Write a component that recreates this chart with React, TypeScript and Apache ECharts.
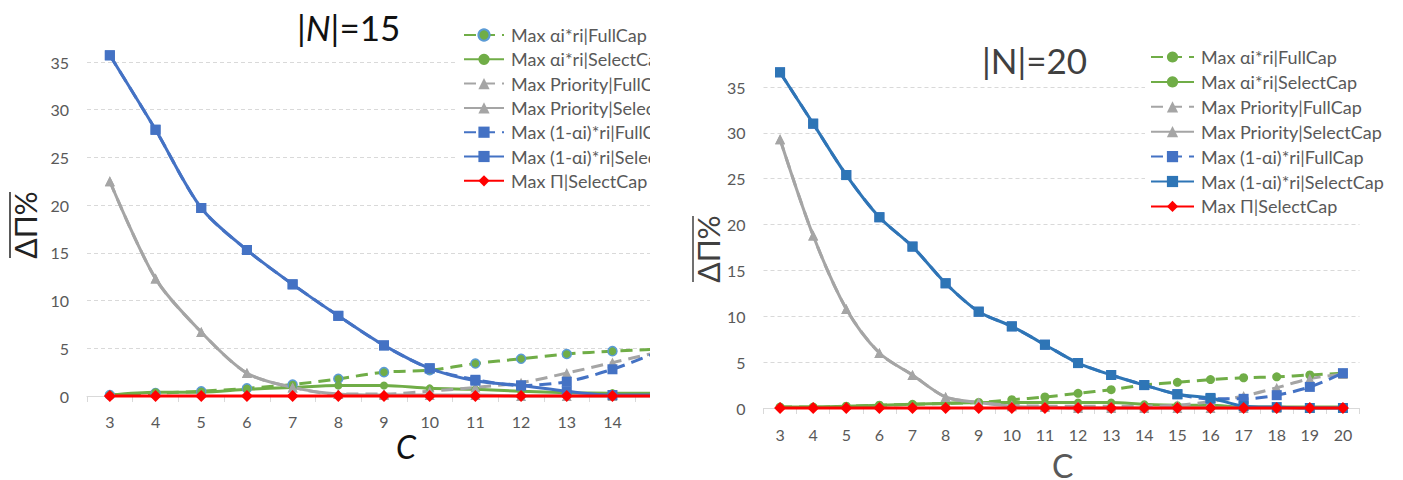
import React, { useEffect, useRef } from "react";
import * as echarts from "echarts";

const FONT = "Lato, 'Open Sans', sans-serif";

const cats15 = ["3", "4", "5", "6", "7", "8", "9", "10", "11", "12", "13", "14", "15"];
const cats20 = ["3", "4", "5", "6", "7", "8", "9", "10", "11", "12", "13", "14", "15", "16", "17", "18", "19", "20"];
const yTicks = [0, 5, 10, 15, 20, 25, 30, 35];

const seriesNames = [
  "Max αi*ri|FullCap",
  "Max αi*ri|SelectCap",
  "Max Priority|FullCap",
  "Max Priority|SelectCap",
  "Max (1-αi)*ri|FullCap",
  "Max (1-αi)*ri|SelectCap",
  "Max Π|SelectCap",
];

// |N| = 15
const greenFull15 = [0.1, 0.3, 0.5, 0.8, 1.2, 1.8, 2.5, 2.7, 3.4, 3.9, 4.4, 4.7, 4.9];
const greenSel15 = [0.1, 0.4, 0.4, 0.7, 0.9, 1.1, 1.1, 0.8, 0.7, 0.5, 0.35, 0.3, 0.3];
const grayFull15 = [22.5, 12.3, 6.7, 2.4, 0.9, 0.2, 0.2, 0.5, 0.9, 1.4, 2.4, 3.5, 4.6];
const graySel15 = [22.5, 12.3, 6.7, 2.4, 0.9, 0.2, 0.1, 0.1, 0.1, 0.0, 0.0, 0.0, 0.0];
const blueFull15 = [35.7, 27.9, 19.7, 15.3, 11.7, 8.4, 5.3, 2.9, 1.7, 1.1, 1.5, 2.8, 4.6];
const blueSel15 = [35.7, 27.9, 19.7, 15.3, 11.7, 8.4, 5.3, 2.9, 1.6, 1.1, 0.5, 0.1, 0.1];
const red15 = [0, 0, 0, 0, 0, 0, 0, 0, 0, 0, 0, 0, 0];

// |N| = 20
const greenFull20 = [0.1, 0.1, 0.2, 0.3, 0.4, 0.5, 0.6, 0.9, 1.2, 1.6, 2.0, 2.5, 2.8, 3.1, 3.3, 3.4, 3.6, 3.8];
const greenSel20 = [0.1, 0.1, 0.2, 0.3, 0.4, 0.5, 0.6, 0.6, 0.6, 0.6, 0.6, 0.4, 0.3, 0.3, 0.1, 0.1, 0.1, 0.1];
const grayFull20 = [29.3, 18.8, 10.8, 6.0, 3.6, 1.2, 0.6, 0.3, 0.2, 0.2, 0.2, 0.2, 0.3, 0.7, 1.3, 2.2, 3.2, 3.7];
const graySel20 = [29.3, 18.8, 10.8, 6.0, 3.6, 1.2, 0.6, 0.2, 0.1, 0.0, 0.0, 0.0, 0.0, 0.0, 0.0, 0.0, 0.0, 0.0];
const blueFull20 = [36.6, 31.0, 25.4, 20.8, 17.6, 13.6, 10.5, 8.9, 6.9, 4.9, 3.6, 2.5, 1.5, 1.0, 1.0, 1.4, 2.3, 3.8];
const blueSel20 = [36.6, 31.0, 25.4, 20.8, 17.6, 13.6, 10.5, 8.9, 6.9, 4.9, 3.6, 2.5, 1.5, 1.1, 0.2, 0.1, 0.0, 0.0];
const red20 = [0, 0, 0, 0, 0, 0, 0, 0, 0, 0, 0, 0, 0, 0, 0, 0, 0, 0];

const GREEN = "#70AD47";
const GRAY = "#A5A5A5";
const BLUE = "#4472C4";
const RED = "#FF0000";
const DASH = [12, 7];

function buildSeries(values: number[][], blueSolid: string, greenBorder: boolean) {
  const styles = [
    { color: GREEN, dashed: true, symbol: "circle", size: 9, border: greenBorder },
    { color: GREEN, dashed: false, symbol: "circle", size: 8, border: false },
    { color: GRAY, dashed: true, symbol: "triangle", size: 10, border: false },
    { color: GRAY, dashed: false, symbol: "triangle", size: 10, border: false },
    { color: BLUE, dashed: true, symbol: "rect", size: 10, border: false },
    { color: blueSolid, dashed: false, symbol: "rect", size: 10, border: false },
    { color: RED, dashed: false, symbol: "diamond", size: 12, border: false },
  ];
  return values.map((data, i) => {
    const s = styles[i];
    return {
      name: seriesNames[i],
      type: "line",
      data,
      smooth: 0.3,
      clip: false,
      symbol: s.symbol,
      symbolSize: s.size,
      lineStyle: { color: s.color, width: 3, type: s.dashed ? DASH : "solid" },
      itemStyle: s.border
        ? { color: s.color, borderColor: "#5B9BD5", borderWidth: 1.5 }
        : { color: s.color, borderWidth: 0 },
      emphasis: { disabled: true },
    };
  });
}

function yTitle(x: number, y: number, color: string) {
  return {
    type: "group",
    x,
    y,
    rotation: Math.PI / 2,
    children: [
      {
        type: "text",
        x: 0,
        y: 0,
        style: {
          text: "ΔΠ%",
          fontSize: 30,
          fontFamily: FONT,
          fill: color,
          textAlign: "center",
          textVerticalAlign: "middle",
        },
      },
      {
        type: "line",
        shape: { x1: -33, y1: -15, x2: 33, y2: -15 },
        style: { stroke: color, lineWidth: 1.5 },
      },
    ],
  };
}

function baseAxes(cats: string[], labelMargin: number) {
  return {
    xAxis: {
      type: "category",
      data: cats,
      boundaryGap: true,
      axisLine: { lineStyle: { color: "#D9D9D9", width: 1 } },
      axisTick: { show: true, length: 6, lineStyle: { color: "#D9D9D9" } },
      axisLabel: { fontSize: 16, color: "#595959", fontFamily: FONT, margin: labelMargin },
    },
    yAxis: {
      type: "value",
      min: yTicks[0],
      max: yTicks[yTicks.length - 1],
      interval: 5,
      axisLine: { show: false },
      axisTick: { show: false },
      splitLine: { lineStyle: { color: "#D9D9D9", type: [4, 3] } },
      axisLabel: { fontSize: 16, color: "#595959", fontFamily: FONT, margin: 18 },
    },
  };
}

function legendCfg(left: number, top: number, itemWidth: number, gap: number) {
  return {
    orient: "vertical",
    left,
    top,
    padding: [2, 5, 2, 5],
    itemGap: gap,
    itemWidth,
    itemHeight: 14,
    backgroundColor: "#ffffff",
    data: seriesNames,
    textStyle: { fontSize: 18, lineHeight: 18, color: "#595959", fontFamily: FONT, padding: [0, 0, 0, 2] },
  };
}

const optionLeft = {
  animation: false,
  textStyle: { fontFamily: FONT },
  grid: { left: 87, right: 39, top: 62, bottom: 84 },
  ...baseAxes(cats15, 17),
  legend: legendCfg(458, 24, 40, 6.3),
  series: buildSeries(
    [greenFull15, greenSel15, grayFull15, graySel15, blueFull15, blueSel15, red15],
    BLUE,
    true
  ),
  graphic: [
    {
      type: "text",
      x: 297,
      y: 9,
      style: {
        text: "|{i|N}|=15",
        fontSize: 35,
        fontFamily: FONT,
        fill: "#111",
        rich: { i: { fontStyle: "italic", fontSize: 35, fontFamily: FONT, fill: "#111" } },
      },
    },
    {
      type: "text",
      x: 396,
      y: 430,
      style: { text: "C", fontSize: 32, fontStyle: "italic", fontFamily: FONT, fill: "#111" },
    },
    yTitle(25, 225, "#222"),
  ],
};

const optionRight = {
  animation: false,
  textStyle: { fontFamily: FONT },
  grid: { left: 93.5, right: 43.5, top: 87, bottom: 72 },
  ...baseAxes(cats20, 18),
  legend: legendCfg(475, 46, 43, 6.9),
  series: buildSeries(
    [greenFull20, greenSel20, grayFull20, graySel20, blueFull20, blueSel20, red20],
    "#2E75B6",
    false
  ),
  graphic: [
    {
      type: "text",
      x: 312,
      y: 42,
      style: { text: "|N|=20", fontSize: 35, fontFamily: FONT, fill: "#404040" },
    },
    {
      type: "text",
      x: 382,
      y: 449,
      style: { text: "C", fontSize: 32, fontFamily: FONT, fill: "#595959" },
    },
    yTitle(38, 249, "#404040"),
  ],
};

function Chart({ option, width, height }: { option: any; width: number; height: number }) {
  const ref = useRef<HTMLDivElement>(null);
  useEffect(() => {
    if (!ref.current) return;
    const chart = echarts.init(ref.current, undefined, { renderer: "svg" });
    chart.setOption(option);
    return () => chart.dispose();
  }, [option]);
  return <div ref={ref} style={{ width, height }} />;
}

export default function App() {
  return (
    <div
      style={{
        position: "fixed",
        left: 0,
        top: 0,
        width: 1403,
        height: 480,
        background: "#fff",
        overflow: "hidden",
      }}
    >
      <div style={{ position: "absolute", left: 0, top: 0, width: 650, height: 480, overflow: "hidden" }}>
        <Chart option={optionLeft} width={720} height={480} />
      </div>
      <div style={{ position: "absolute", left: 670, top: 0, width: 733, height: 480 }}>
        <Chart option={optionRight} width={733} height={480} />
      </div>
    </div>
  );
}
